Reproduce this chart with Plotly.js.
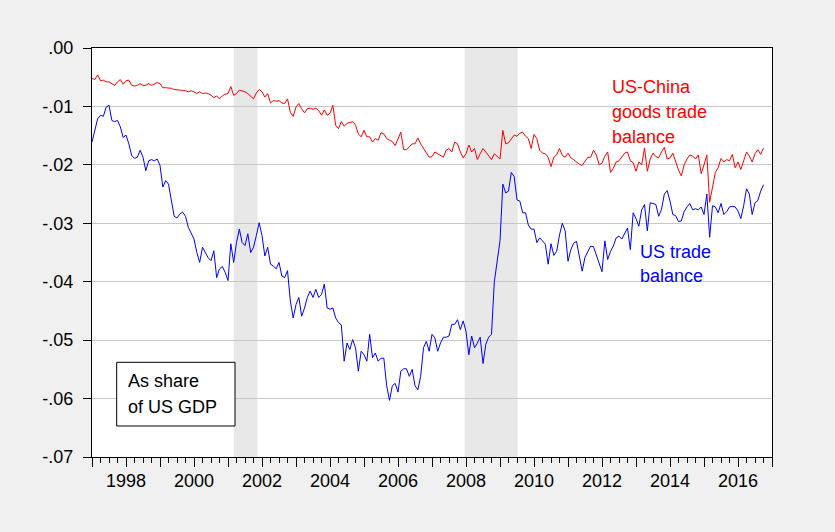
<!DOCTYPE html>
<html>
<head>
<meta charset="utf-8">
<script src="https://cdn.plot.ly/plotly-3.0.1.min.js"></script>
<style>html,body{margin:0;padding:0;background:#f0f0f0;}#chart{width:835px;height:532px;}</style>
</head>
<body>
<div id="chart"></div>
<script>
// Monthly observations, January 1997 to October 2016 (share of US GDP)
const startYear = 1997;
const usTradeBalance = [
 -0.0161,-0.0138,-0.0121,-0.0115,-0.0117,-0.0101,-0.0098,-0.0124,-0.0126,-0.0124,-0.0135,-0.0153,
 -0.0149,-0.0164,-0.0184,-0.0189,-0.0187,-0.0175,-0.0187,-0.0210,-0.0193,-0.0191,-0.0193,-0.0190,
 -0.0201,-0.0238,-0.0227,-0.0233,-0.0264,-0.0288,-0.0291,-0.0284,-0.0281,-0.0288,-0.0307,-0.0317,
 -0.0327,-0.0350,-0.0367,-0.0341,-0.0350,-0.0359,-0.0364,-0.0347,-0.0393,-0.0378,-0.0374,-0.0384,
 -0.0398,-0.0335,-0.0367,-0.0333,-0.0310,-0.0333,-0.0338,-0.0318,-0.0350,-0.0341,-0.0321,-0.0299,
 -0.0321,-0.0356,-0.0341,-0.0370,-0.0373,-0.0378,-0.0367,-0.0390,-0.0393,-0.0381,-0.0433,-0.0462,
 -0.0439,-0.0427,-0.0459,-0.0445,-0.0427,-0.0416,-0.0427,-0.0413,-0.0427,-0.0422,-0.0404,-0.0445,
 -0.0447,-0.0445,-0.0462,-0.0470,-0.0474,-0.0536,-0.0505,-0.0516,-0.0499,-0.0513,-0.0553,-0.0519,
 -0.0525,-0.0536,-0.0490,-0.0530,-0.0522,-0.0536,-0.0531,-0.0531,-0.0578,-0.0603,-0.0578,-0.0574,
 -0.0589,-0.0553,-0.0549,-0.0549,-0.0562,-0.0550,-0.0578,-0.0585,-0.0562,-0.0513,-0.0502,-0.0519,
 -0.0490,-0.0496,-0.0519,-0.0505,-0.0495,-0.0495,-0.0493,-0.0473,-0.0473,-0.0465,-0.0482,-0.0467,
 -0.0485,-0.0525,-0.0493,-0.0513,-0.0505,-0.0495,-0.0540,-0.0507,-0.0495,-0.0490,-0.0400,-0.0360,
 -0.0330,-0.0233,-0.0248,-0.0245,-0.0213,-0.0220,-0.0260,-0.0262,-0.0282,-0.0282,-0.0303,-0.0310,
 -0.0310,-0.0333,-0.0325,-0.0330,-0.0336,-0.0370,-0.0335,-0.0355,-0.0348,-0.0320,-0.0300,-0.0313,
 -0.0365,-0.0345,-0.0334,-0.0331,-0.0358,-0.0382,-0.0358,-0.0348,-0.0339,-0.0340,-0.0355,-0.0370,
 -0.0383,-0.0330,-0.0362,-0.0348,-0.0339,-0.0325,-0.0322,-0.0327,-0.0318,-0.0308,-0.0345,-0.0282,
 -0.0292,-0.0305,-0.0277,-0.0268,-0.0313,-0.0265,-0.0266,-0.0268,-0.0288,-0.0276,-0.0250,-0.0244,
 -0.0262,-0.0285,-0.0287,-0.0297,-0.0296,-0.0280,-0.0272,-0.0266,-0.0277,-0.0275,-0.0277,-0.0272,
 -0.0285,-0.0250,-0.0324,-0.0270,-0.0272,-0.0282,-0.0266,-0.0285,-0.0280,-0.0272,-0.0271,-0.0272,
 -0.0279,-0.0292,-0.0270,-0.0241,-0.0250,-0.0285,-0.0265,-0.0261,-0.0245,-0.0234
];
const usChinaGoodsBalance = [
 -0.0052,-0.0054,-0.0046,-0.0056,-0.0055,-0.0058,-0.0058,-0.0061,-0.0064,-0.0058,-0.0054,-0.0062,
 -0.0056,-0.0055,-0.0064,-0.0065,-0.0064,-0.0061,-0.0064,-0.0064,-0.0061,-0.0064,-0.0062,-0.0059,
 -0.0061,-0.0068,-0.0068,-0.0068,-0.0069,-0.0071,-0.0071,-0.0072,-0.0073,-0.0073,-0.0075,-0.0073,
 -0.0075,-0.0078,-0.0075,-0.0078,-0.0077,-0.0078,-0.0081,-0.0085,-0.0082,-0.0087,-0.0082,-0.0079,
 -0.0078,-0.0066,-0.0081,-0.0078,-0.0072,-0.0073,-0.0075,-0.0078,-0.0082,-0.0087,-0.0077,-0.0071,
 -0.0075,-0.0084,-0.0078,-0.0094,-0.0090,-0.0091,-0.0090,-0.0094,-0.0095,-0.0087,-0.0110,-0.0117,
 -0.0101,-0.0095,-0.0104,-0.0111,-0.0104,-0.0103,-0.0105,-0.0103,-0.0107,-0.0115,-0.0106,-0.0115,
 -0.0112,-0.0098,-0.0132,-0.0138,-0.0126,-0.0134,-0.0129,-0.0128,-0.0126,-0.0132,-0.0147,-0.0152,
 -0.0141,-0.0152,-0.0152,-0.0161,-0.0155,-0.0158,-0.0145,-0.0147,-0.0155,-0.0158,-0.0160,-0.0167,
 -0.0155,-0.0144,-0.0174,-0.0174,-0.0169,-0.0164,-0.0164,-0.0154,-0.0164,-0.0172,-0.0180,-0.0187,
 -0.0186,-0.0178,-0.0181,-0.0184,-0.0187,-0.0175,-0.0172,-0.0178,-0.0161,-0.0164,-0.0178,-0.0188,
 -0.0181,-0.0166,-0.0178,-0.0172,-0.0191,-0.0181,-0.0172,-0.0178,-0.0184,-0.0191,-0.0181,-0.0186,
 -0.0190,-0.0141,-0.0164,-0.0162,-0.0155,-0.0149,-0.0151,-0.0146,-0.0144,-0.0151,-0.0155,-0.0172,
 -0.0148,-0.0155,-0.0175,-0.0180,-0.0181,-0.0187,-0.0203,-0.0187,-0.0183,-0.0172,-0.0184,-0.0187,
 -0.0180,-0.0188,-0.0191,-0.0195,-0.0199,-0.0201,-0.0195,-0.0187,-0.0187,-0.0175,-0.0183,-0.0200,
 -0.0197,-0.0185,-0.0178,-0.0213,-0.0206,-0.0195,-0.0193,-0.0186,-0.0180,-0.0178,-0.0193,-0.0196,
 -0.0211,-0.0195,-0.0200,-0.0171,-0.0211,-0.0190,-0.0180,-0.0186,-0.0188,-0.0178,-0.0170,-0.0190,
 -0.0188,-0.0180,-0.0195,-0.0209,-0.0219,-0.0200,-0.0190,-0.0183,-0.0185,-0.0190,-0.0183,-0.0215,
 -0.0200,-0.0183,-0.0264,-0.0235,-0.0213,-0.0205,-0.0189,-0.0195,-0.0191,-0.0193,-0.0182,-0.0205,
 -0.0195,-0.0208,-0.0194,-0.0178,-0.0185,-0.0195,-0.0181,-0.0174,-0.0182,-0.0171
];
// Recessions (decimal years): Mar-Nov 2001, Dec 2007-Jun 2009
const recessionStarts = [2001.17, 2007.96];
const recessionEnds   = [2001.87, 2009.52];
const yTickValues = [0, -0.01, -0.02, -0.03, -0.04, -0.05, -0.06, -0.07];
const yTickLabels = [".00", "-.01", "-.02", "-.03", "-.04", "-.05", "-.06", "-.07"];
const xTickYears = [1997,1998,1999,2000,2001,2002,2003,2004,2005,2006,2007,2008,2009,2010,2011,2012,2013,2014,2015,2016,2017];
const xTickLabels = xTickYears.map(y => (y % 2 === 0 && y < 2017) ? String(y) : "");
const chinaLabelLines = ["US-China", "goods trade", "balance"];
const usLabelLines = ["US trade", "balance"];
const noteLines = ["As share", "of US GDP"];

const months = usTradeBalance.map((_, i) => startYear + i / 12);

const traces = [
  {x: months, y: usChinaGoodsBalance, type: 'scatter', mode: 'lines',
   line: {color: '#ff0000', width: 1}, name: 'US-China goods trade balance'},
  {x: months, y: usTradeBalance, type: 'scatter', mode: 'lines',
   line: {color: '#0000ff', width: 1}, name: 'US trade balance'}
];

const shapes = recessionStarts.map((s, i) => ({
  type: 'rect', xref: 'x', yref: 'paper', x0: s, x1: recessionEnds[i], y0: 0, y1: 1,
  fillcolor: '#e8e8e8', line: {width: 0}, layer: 'below'
}));
shapes.push({type: 'rect', xref: 'paper', yref: 'paper', x0: 0.0363, x1: 0.2103, y0: 0.0758, y1: 0.2315,
  fillcolor: '#ffffff', line: {color: '#000000', width: 1}, layer: 'above'});

// plot area: top 48px, height 409px; convert pixel row to paper y
const paperY = p => 1 - (p - 48) / 409;
function lineNotes(lines, xPaper, firstTopPx, stepPx, color) {
  return lines.map((t, i) => ({
    xref: 'paper', yref: 'paper', x: xPaper, y: paperY(firstTopPx + i * stepPx),
    xanchor: 'left', yanchor: 'top', align: 'left', showarrow: false,
    text: t, font: {color: color, size: 18}
  }));
}

const layout = {
  width: 835, height: 532,
  paper_bgcolor: '#f0f0f0', plot_bgcolor: '#ffffff',
  margin: {l: 92, r: 63, t: 48, b: 75, pad: 0},
  showlegend: false,
  font: {family: 'Liberation Sans, Arial, sans-serif', size: 18, color: '#000000'},
  xaxis: {
    range: [1997, 2017], tickmode: 'array', tickvals: xTickYears, ticktext: xTickLabels,
    ticks: 'outside', ticklen: 9, tickwidth: 1, tickcolor: '#000000',
    showgrid: false, zeroline: false, showline: true, mirror: true, linecolor: '#000000', linewidth: 1,
    tickfont: {size: 18}, ticklabelstandoff: -2,
    minor: {tickmode: 'linear', tick0: 1997, dtick: 0.25, ticks: 'outside', ticklen: 5, tickwidth: 1, tickcolor: '#000000', showgrid: false}
  },
  yaxis: {
    range: [-0.07, 0], tickmode: 'array', tickvals: yTickValues, ticktext: yTickLabels,
    ticks: 'outside', ticklen: 8, tickwidth: 1, tickcolor: '#000000',
    showgrid: true, gridcolor: '#c8c8c8', gridwidth: 1,
    zeroline: false, showline: true, mirror: true, linecolor: '#000000', linewidth: 1,
    tickfont: {size: 18}, ticklabelstandoff: 6
  },
  shapes: shapes,
  annotations: [].concat(
    lineNotes(chinaLabelLines, 0.7613, 75.5, 24.5, '#ff0000'),
    lineNotes(usLabelLines, 0.8034, 239.5, 24.5, '#0000ff'),
    lineNotes(noteLines, 0.0504, 369, 26, '#000000')
  )
};

Plotly.newPlot('chart', traces, layout, {displayModeBar: false, staticPlot: true});
</script>
</body>
</html>
